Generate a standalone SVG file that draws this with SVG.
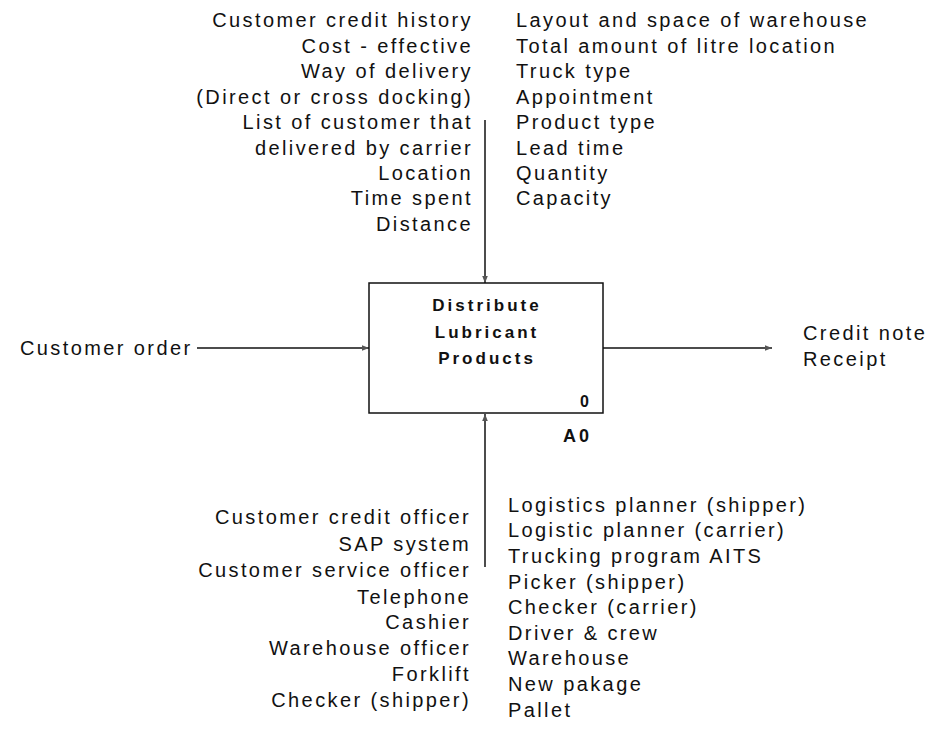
<svg xmlns="http://www.w3.org/2000/svg" width="931" height="741" viewBox="0 0 931 741">
<defs>
<style>
text{font-family:"Liberation Sans",Arial,sans-serif;font-size:20px;letter-spacing:2.4px;fill:#111}
.r{text-anchor:end}
.b{font-weight:bold;font-size:17px;letter-spacing:3px;text-anchor:middle}
.ln{stroke:#111;stroke-width:1.5;fill:none}
</style>
<marker id="ah" viewBox="0 0 10 10" refX="10" refY="5" markerWidth="7" markerHeight="7" orient="auto" markerUnits="userSpaceOnUse">
<path d="M0,1 L10,5 L0,9 z" fill="#555"/>
</marker>
</defs>
<rect width="931" height="741" fill="#fff"/>
<g id="connectors">
<path class="ln" d="M485,120 V283" marker-end="url(#ah)"/>
<path class="ln" d="M485,567 V414" marker-end="url(#ah)"/>
<path class="ln" d="M197,348 H369" marker-end="url(#ah)"/>
<path class="ln" d="M603,348 H772" marker-end="url(#ah)"/>
</g>
<g id="node-A0">
<rect x="369" y="283" width="234" height="130" fill="#fff" stroke="#111" stroke-width="1.5"/>
<text class="b" x="487" y="311">Distribute</text>
<text class="b" x="487" y="338">Lubricant</text>
<text class="b" x="487" y="364">Products</text>
<text x="580" y="407" style="font-weight:bold;font-size:16px">0</text>
<text x="563" y="442" style="font-weight:bold;font-size:18px;letter-spacing:3px">A0</text>
</g>
<g id="controls-left">
<text class="r" x="473" y="27">Customer credit history</text>
<text class="r" x="473" y="53">Cost - effective</text>
<text class="r" x="473" y="78">Way of delivery</text>
<text class="r" x="473" y="104">(Direct or cross docking)</text>
<text class="r" x="473" y="129">List of customer that</text>
<text class="r" x="473" y="155">delivered by carrier</text>
<text class="r" x="473" y="180">Location</text>
<text class="r" x="473" y="205">Time spent</text>
<text class="r" x="473" y="231">Distance</text>
</g>
<g id="controls-right">
<text x="516" y="27">Layout and space of warehouse</text>
<text x="516" y="53">Total amount of litre location</text>
<text x="516" y="78">Truck type</text>
<text x="516" y="104">Appointment</text>
<text x="516" y="129">Product type</text>
<text x="516" y="155">Lead time</text>
<text x="516" y="180">Quantity</text>
<text x="516" y="205">Capacity</text>
</g>
<g id="input">
<text x="20" y="355">Customer order</text>
</g>
<g id="output">
<text x="803" y="340">Credit note</text>
<text x="803" y="366">Receipt</text>
</g>
<g id="mechanisms-left">
<text class="r" x="471" y="524">Customer credit officer</text>
<text class="r" x="471" y="551">SAP system</text>
<text class="r" x="471" y="577">Customer service officer</text>
<text class="r" x="471" y="604">Telephone</text>
<text class="r" x="471" y="629">Cashier</text>
<text class="r" x="471" y="655">Warehouse officer</text>
<text class="r" x="471" y="681">Forklift</text>
<text class="r" x="471" y="707">Checker (shipper)</text>
</g>
<g id="mechanisms-right">
<text x="508" y="512">Logistics planner (shipper)</text>
<text x="508" y="537">Logistic planner (carrier)</text>
<text x="508" y="563">Trucking program AITS</text>
<text x="508" y="589">Picker (shipper)</text>
<text x="508" y="614">Checker (carrier)</text>
<text x="508" y="640">Driver &amp; crew</text>
<text x="508" y="665">Warehouse</text>
<text x="508" y="691">New pakage</text>
<text x="508" y="717">Pallet</text>
</g>
</svg>
